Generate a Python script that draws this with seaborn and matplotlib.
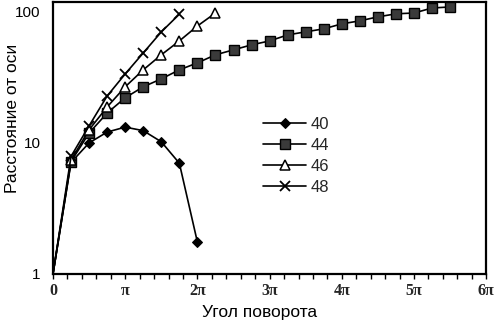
import numpy as np
import pandas as pd
import matplotlib
matplotlib.use("Agg")
import matplotlib.pyplot as plt
from matplotlib.ticker import FixedLocator, MultipleLocator, FuncFormatter
import seaborn as sns

# Rotation angle, in multiples of pi (the origin point has no marker)
angle_40 = [0, 0.25, 0.5, 0.75, 1.0, 1.25, 1.5, 1.75, 2.0]
dist_40 = [1, 7.1, 10.0, 12.1, 13.2, 12.4, 10.2, 7.0, 1.75]

angle_44 = [0, 0.25, 0.5, 0.75, 1.0, 1.25, 1.5, 1.75, 2.0, 2.25, 2.5, 2.75,
            3.0, 3.25, 3.5, 3.75, 4.0, 4.25, 4.5, 4.75, 5.0, 5.25, 5.5]
dist_44 = [1, 7.2, 11.9, 16.9, 22.1, 26.8, 30.8, 36.1, 40.8, 47.0, 51.3, 56.0,
           60.0, 66.7, 70.4, 74.2, 81.0, 85.4, 91.6, 96.6, 98.0, 107.0, 109.0]

angle_46 = [0, 0.25, 0.5, 0.75, 1.0, 1.25, 1.5, 1.75, 2.0, 2.25]
dist_46 = [1, 7.4, 12.6, 18.8, 26.8, 36.1, 47.0, 60.0, 78.0, 98.0]

angle_48 = [0, 0.25, 0.5, 0.75, 1.0, 1.25, 1.5, 1.75]
dist_48 = [1, 7.9, 13.5, 22.8, 33.6, 48.6, 70.3, 96.0]

series_names = ["40", "44", "46", "48"]
x_tick_labels = ["0", "π", "2π", "3π", "4π", "5π", "6π"]
y_tick_values = [1, 10, 100]

sns.set_theme(style="white")
plt.rcParams["font.family"] = ["Liberation Sans", "DejaVu Sans"]

fig = plt.figure(figsize=(4.98, 3.25), dpi=100)
ax = fig.add_axes([0.1064, 0.157, 0.870, 0.837])

styles = {
    "40": dict(marker="D", markersize=5.5, markerfacecolor="black",
               markeredgecolor="black"),
    "44": dict(marker="s", markersize=6.5, markerfacecolor="#3a3a3a",
               markeredgecolor="black", markeredgewidth=1.0),
    "46": dict(marker="^", markersize=7, markerfacecolor="white",
               markeredgecolor="black", markeredgewidth=1.1),
    "48": dict(marker="x", markersize=7, markeredgecolor="black",
               markeredgewidth=1.3),
}

data = {
    "40": (angle_40, dist_40),
    "44": (angle_44, dist_44),
    "46": (angle_46, dist_46),
    "48": (angle_48, dist_48),
}

for name in series_names:
    a, d = data[name]
    frame = pd.DataFrame({"angle": np.array(a) * np.pi, "dist": d})
    sns.lineplot(data=frame, x="angle", y="dist", ax=ax, color="black",
                 linewidth=1.2, label=name, markevery=slice(1, None),
                 clip_on=False, zorder=3, **styles[name])

ax.set_yscale("log")
ax.set_xlim(0, 6 * np.pi)
ax.set_ylim(1, 119)

# x ticks: labelled every pi, small marks every 0.2 pi
ax.xaxis.set_major_locator(FixedLocator([k * np.pi for k in range(7)]))
ax.xaxis.set_major_formatter(FuncFormatter(lambda v, p: x_tick_labels[int(round(v / np.pi))]))
ax.xaxis.set_minor_locator(MultipleLocator(0.2 * np.pi))
ax.tick_params(axis="x", which="both", direction="out", length=3.5, width=1.0,
               color="black", bottom=True, pad=3)
for lab in ax.get_xticklabels():
    lab.set_family(["Liberation Serif", "DejaVu Serif"])
    lab.set_fontweight("bold")
    lab.set_fontsize(11.5)

ax.yaxis.set_major_locator(FixedLocator(y_tick_values))
ax.yaxis.set_minor_locator(FixedLocator([]))
ax.yaxis.set_major_formatter(FuncFormatter(lambda v, p: f"{int(round(v))}"))
ax.tick_params(axis="y", which="both", length=0, pad=9, labelsize=11,
               labelcolor="black")

for side in ["left", "right", "top", "bottom"]:
    ax.spines[side].set_visible(True)
    ax.spines[side].set_color("black")
    ax.spines[side].set_linewidth(1.6)

ax.set_xlabel("Угол поворота", fontsize=12.5, color="black")
ax.xaxis.set_label_coords(0.476, -0.115)
ax.set_ylabel("Расстояние от оси", fontsize=12.5, color="black")
ax.yaxis.set_label_coords(-0.077, 0.572)

leg = ax.legend(loc="upper left", bbox_to_anchor=(0.485, 0.578), frameon=False,
                fontsize=12, handlelength=2.6, handletextpad=0.25,
                labelspacing=0.36, borderpad=0, borderaxespad=0, numpoints=1)

fig.savefig("out.png", dpi=100, facecolor="white")
